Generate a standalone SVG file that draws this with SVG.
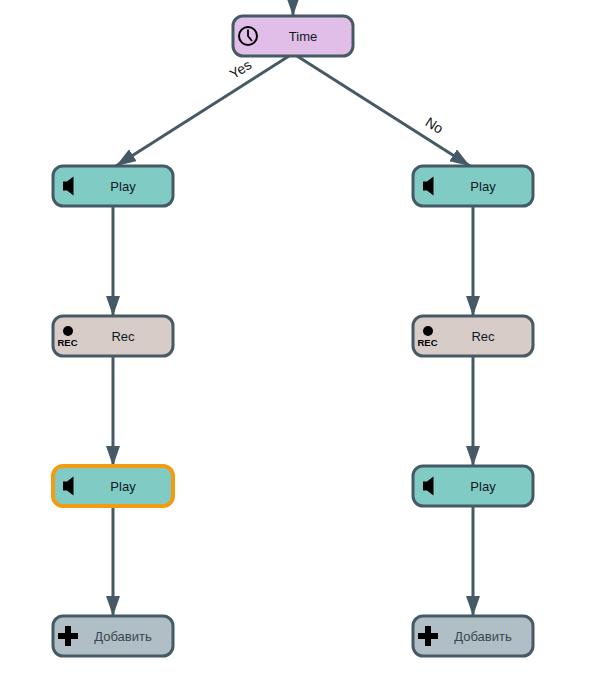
<svg xmlns="http://www.w3.org/2000/svg" width="593" height="687" viewBox="0 0 593 687">
<style>
text{font-family:"Liberation Sans",Arial,sans-serif;font-size:13px;fill:#10181f;text-anchor:middle}
.n{stroke:#455a64;stroke-width:3;rx:10px}
.play{fill:#80cbc4}.rec{fill:#d7ccc8}.add{fill:#b0bec5}.time{fill:#e1bee7}
.c{stroke:#455a64;stroke-width:3;fill:none;marker-end:url(#a)}
.lab{fill:#111;font-size:14px}
.addt{fill:#37474f}
.rt{font-size:9.500px;font-weight:bold;fill:#000}
</style>
<defs>
<marker id="a" markerUnits="userSpaceOnUse" markerWidth="22" markerHeight="16" refX="20" refY="7" orient="auto"><path d="M0 0L20 7L0 14Z" fill="#455a64"/></marker>
<g id="spk"><path d="M0 -4.500H4L10.500 -9.500V9.500L4 4.500H0Z" fill="#000"/></g>
<g id="plus"><path d="M-3 -10H3V-3H10V3H3V10H-3V3H-10V-3H-3Z" fill="#000"/></g>
</defs>
<g id="connectors">
<path class="c" d="M293 -10V16"/>
<path class="c" d="M289 56L116 166"/>
<path class="c" d="M297 56L470 166"/>
<path class="c" d="M113 206V316"/>
<path class="c" d="M113 356V466"/>
<path class="c" d="M113 506V616"/>
<path class="c" d="M473 206V316"/>
<path class="c" d="M473 356V466"/>
<path class="c" d="M473 506V616"/>
<text class="lab" transform="translate(241 70) rotate(-32)" x="0" y="4">Yes</text>
<text class="lab" transform="translate(434 126) rotate(32)" x="0" y="4">No</text>
</g>
<g id="time"><rect class="n time" x="233" y="16" width="120" height="40"/>
<circle cx="248" cy="36" r="9" fill="none" stroke="#000" stroke-width="2"/><path d="M248 29.500V36L252 41" fill="none" stroke="#000" stroke-width="1.800"/>
<text x="303" y="41">Time</text></g>
<g id="play1"><rect class="n play" x="53" y="166" width="120" height="40"/><use href="#spk" x="63" y="186"/><text x="123" y="191">Play</text></g>
<g id="rec1"><rect class="n rec" x="53" y="316" width="120" height="40"/><circle cx="68" cy="331" r="5" fill="#000"/><text class="rt" x="67.500" y="346">REC</text><text x="123" y="341">Rec</text></g>
<g id="play2"><rect class="n play" x="53" y="466" width="120" height="40" style="stroke:#f39c12;stroke-width:4"/><use href="#spk" x="63" y="486"/><text x="123" y="491">Play</text></g>
<g id="add1"><rect class="n add" x="53" y="616" width="120" height="40"/><use href="#plus" x="68" y="636"/><text class="addt" x="123" y="641">Добавить</text></g>
<g id="play3"><rect class="n play" x="413" y="166" width="120" height="40"/><use href="#spk" x="423" y="186"/><text x="483" y="191">Play</text></g>
<g id="rec2"><rect class="n rec" x="413" y="316" width="120" height="40"/><circle cx="428" cy="331" r="5" fill="#000"/><text class="rt" x="427.500" y="346">REC</text><text x="483" y="341">Rec</text></g>
<g id="play4"><rect class="n play" x="413" y="466" width="120" height="40"/><use href="#spk" x="423" y="486"/><text x="483" y="491">Play</text></g>
<g id="add2"><rect class="n add" x="413" y="616" width="120" height="40"/><use href="#plus" x="428" y="636"/><text class="addt" x="483" y="641">Добавить</text></g>
</svg>
